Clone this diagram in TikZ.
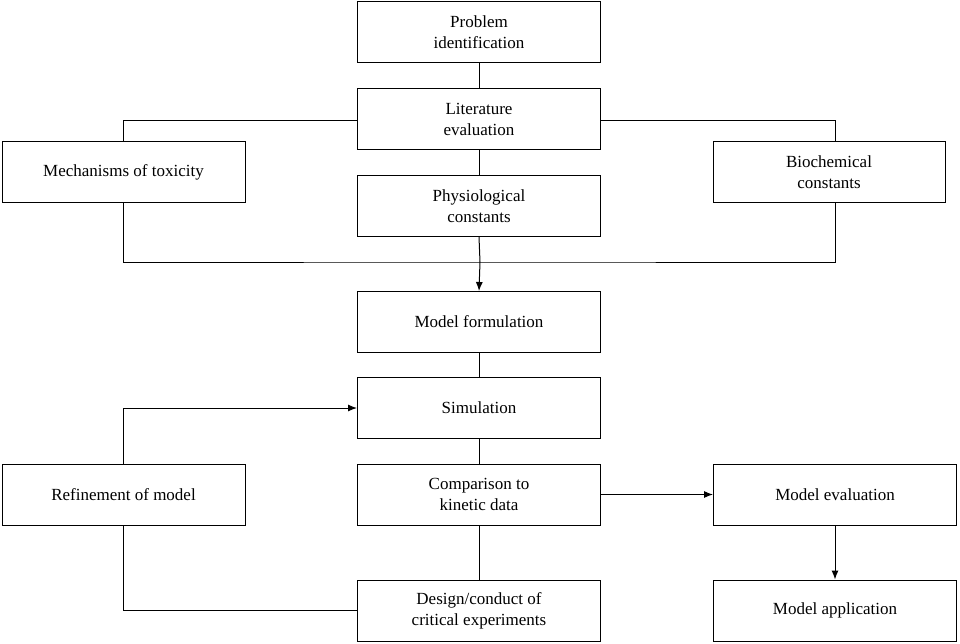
\documentclass[tikz,border=0pt]{standalone}
\usepackage{fontspec}
\setmainfont{Liberation Serif}
\usetikzlibrary{arrows.meta}
\begin{document}
\begin{tikzpicture}[x=1pt,y=-1pt,
 box/.style={draw,line width=1pt,minimum width=243pt,minimum height=61pt,align=center,font=\fontsize{17}{21}\selectfont,inner sep=0pt},
 ln/.style={line width=1pt},
 arr/.style={line width=1pt,-{Latex[length=9pt,width=7pt]}}]
\useasboundingbox[fill=white] (0,0) rectangle (960,643);
\node[box] (prob) at (479,32) {Problem\\identification};
\node[box] (lit) at (479,119) {Literature\\evaluation};
\node[box] (mech) at (123.5,172) {Mechanisms of toxicity};
\node[box,minimum width=232pt] (bio) at (829,172) {Biochemical\\constants};
\node[box] (phys) at (479,206) {Physiological\\constants};
\node[box] (form) at (479,322) {Model formulation};
\node[box] (sim) at (479,408) {Simulation};
\node[box] (ref) at (123.5,494.5) {Refinement of model};
\node[box] (comp) at (479,494.5) {Comparison to\\kinetic data};
\node[box] (eval) at (835,494.5) {Model evaluation};
\node[box] (des) at (479,610.5) {Design/conduct of\\critical experiments};
\node[box] (app) at (835,610.5) {Model application};
\coordinate (j) at (480,262);
\draw[ln] (prob) -- (lit);
\draw[ln] (lit) -- (phys);
\draw[ln] (lit.west |- 0,120) -| (123,141);
\draw[ln] (lit.east |- 0,120) -| (835,141);
\draw[ln] (mech.south) |- (j) -| (835,203);
\draw[ln] (phys.south) -- (j);
\draw[arr] (j) -- (form.north);
\draw[ln] (form) -- (sim);
\draw[ln] (sim) -- (comp);
\draw[ln] (comp.south) -- (des.north);
\draw[arr] (comp.east) -- (eval.west);
\draw[arr] (eval) -- (app);
\draw[ln] (des.west) -| (ref.south);
\draw[arr] (ref.north) |- (sim.west);
\end{tikzpicture}
\end{document}
